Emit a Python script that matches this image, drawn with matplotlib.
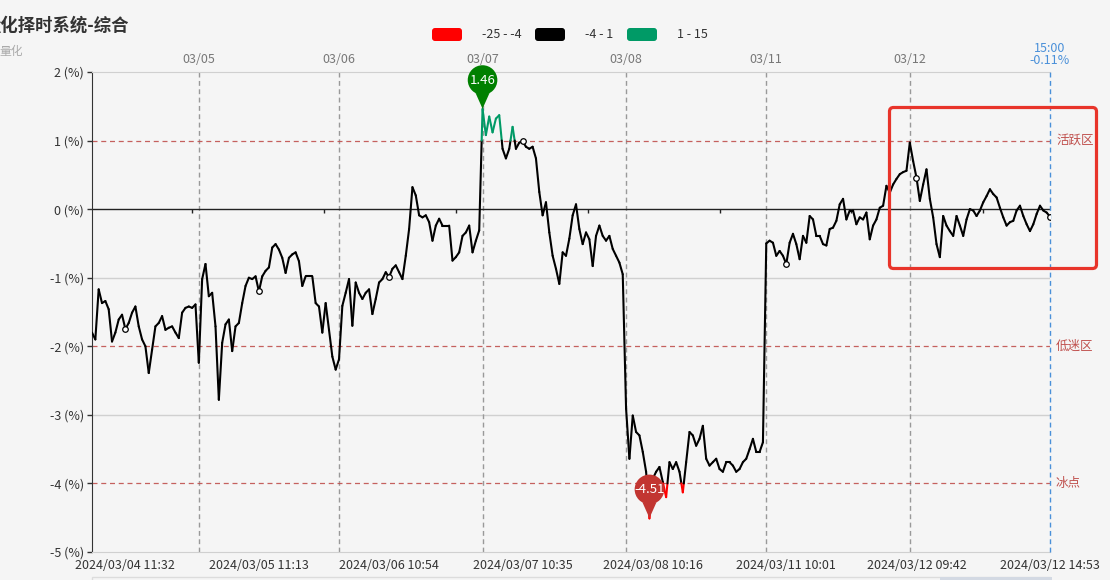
"""
量化择时系统-综合：多日分时指标走势（按区间着色）
"""
import matplotlib
matplotlib.use("Agg")
import matplotlib.pyplot as plt
import matplotlib.transforms as mtransforms
from matplotlib.collections import LineCollection
from matplotlib.patches import Circle, Polygon, FancyBboxPatch, Rectangle
import numpy as np

plt.rcParams["font.family"] = ["Noto Sans CJK SC", "DejaVu Sans"]

W, H = 1110, 580

# ---- 数据（每日分时采样，单位 %）----
d0304 = [-1.80, -1.90, -1.17, -1.37, -1.34, -1.46, -1.93, -1.80, -1.61, -1.54,
         -1.75, -1.66, -1.51, -1.42, -1.71, -1.90, -2.00, -2.39, -2.05, -1.71,
         -1.66, -1.56, -1.76, -1.73, -1.71, -1.80, -1.88, -1.51, -1.44, -1.42,
         -1.44, -1.39]
d0305 = [-2.24, -1.02, -0.80, -1.27, -1.22, -1.71, -2.78, -1.95, -1.68, -1.61,
         -2.07, -1.71, -1.66, -1.37, -1.12, -1.00, -1.02, -0.98, -1.20, -0.98,
         -0.90, -0.85, -0.56, -0.51, -0.59, -0.71, -0.93, -0.71, -0.66, -0.63,
         -0.76, -1.12, -0.98, -0.98, -0.98, -1.37, -1.42, -1.80, -1.37, -1.76,
         -2.15, -2.34]
d0306 = [-2.19, -1.41, -1.22, -1.02, -1.70, -1.07, -1.22, -1.31, -1.22, -1.17,
         -1.53, -1.31, -1.07, -1.02, -0.92, -0.99, -0.87, -0.82, -0.92, -1.02,
         -0.68, -0.29, 0.32, 0.20, -0.09, -0.12, -0.09, -0.19, -0.46, -0.24,
         -0.14, -0.24, -0.24, -0.24, -0.75, -0.70, -0.63, -0.39, -0.34, -0.24,
         -0.63, -0.46, -0.31]
d0307 = [1.46, 1.08, 1.35, 1.12, 1.32, 1.37, 0.88, 0.74, 0.88, 1.20,
         0.88, 0.97, 0.99, 0.91, 0.88, 0.91, 0.74, 0.25, -0.09, 0.10,
         -0.34, -0.68, -0.87, -1.09, -0.63, -0.68, -0.43, -0.09, 0.07, -0.29,
         -0.51, -0.34, -0.44, -0.83, -0.39, -0.24, -0.39, -0.46, -0.39, -0.58,
         -0.68, -0.78, -0.95]
d0308 = [-2.91, -3.64, -3.01, -3.25, -3.30, -3.54, -3.83, -4.51, -3.93, -3.83,
         -3.76, -3.98, -4.20, -3.69, -3.79, -3.69, -3.83, -4.13, -3.69, -3.25,
         -3.30, -3.45, -3.35, -3.16, -3.64, -3.74, -3.69, -3.64, -3.79, -3.83,
         -3.69, -3.69, -3.74, -3.83, -3.79, -3.69, -3.64, -3.50, -3.35, -3.54,
         -3.54, -3.40]
d0311 = [-0.50, -0.46, -0.49, -0.68, -0.61, -0.68, -0.80, -0.49, -0.36, -0.51,
         -0.73, -0.39, -0.49, -0.10, -0.15, -0.39, -0.39, -0.51, -0.53, -0.29,
         -0.27, -0.17, 0.07, 0.15, -0.15, -0.02, -0.02, -0.22, -0.12, -0.15,
         -0.05, -0.44, -0.24, -0.15, 0.02, 0.05, 0.34, 0.24, 0.36, 0.44,
         0.51, 0.54, 0.56]
d0312 = [0.97, 0.70, 0.46, 0.12, 0.36, 0.58, 0.15, -0.12, -0.51, -0.70,
         -0.10, -0.24, -0.32, -0.39, -0.10, -0.24, -0.39, -0.15, 0.00, -0.02,
         -0.10, -0.02, 0.10, 0.19, 0.29, 0.22, 0.17, 0.02, -0.12, -0.24,
         -0.19, -0.17, -0.02, 0.05, -0.10, -0.22, -0.32, -0.22, -0.07, 0.05,
         -0.02, -0.05, -0.11]

day_names  = ["03/04", "03/05", "03/06", "03/07", "03/08", "03/11", "03/12"]
day_values = [d0304, d0305, d0306, d0307, d0308, d0311, d0312]

tick_idx    = [10, 50, 89, 129, 168, 208, 247, 287]
tick_labels = ["2024/03/04 11:32", "2024/03/05 11:13", "2024/03/06 10:54",
               "2024/03/07 10:35", "2024/03/08 10:16", "2024/03/11 10:01",
               "2024/03/12 09:42", "2024/03/12 14:53"]

zone_levels = [1, -2, -4]
zone_names  = ["活跃区", "低迷区", "冰点"]

piece_edges  = [-25, -4, 1, 15]
piece_labels = ["-25 - -4", "-4 - 1", "1 - 15"]

# ---- 样式 ----
BG          = "#f5f5f5"
PIECE_COLS  = ["#ff0000", "#000000", "#009a66"]
ZONE_COL    = "#c0504d"
BLUE        = "#4a90d9"
GRID_COL    = "#d0d0d0"

values    = np.concatenate([np.asarray(d, float) for d in day_values])
xs        = np.arange(len(values))
day_start = np.cumsum([0] + [len(d) for d in day_values[:-1]])
last      = len(values) - 1


def split_at_levels(x, y, levels):
    """在阈值交点处插点，便于按区间分段着色"""
    ox, oy = [x[0]], [y[0]]
    for k in range(1, len(x)):
        x0, y0, x1, y1 = x[k - 1], y[k - 1], x[k], y[k]
        cross = []
        for lv in levels:
            if (y0 - lv) * (y1 - lv) < 0:
                cross.append((lv - y0) / (y1 - y0))
        for t in sorted(cross):
            ox.append(x0 + t * (x1 - x0))
            oy.append(y0 + t * (y1 - y0))
        ox.append(x1)
        oy.append(y1)
    return np.array(ox), np.array(oy)


def pix(x, y_top):
    return x / W, 1 - y_top / H


fig = plt.figure(figsize=(W / 100, H / 100), dpi=100, facecolor=BG)
ax = fig.add_axes([92 / W, 1 - 552 / H, 958 / W, 480 / H], facecolor=BG)
ax.set_xlim(0, last)
ax.set_ylim(-5, 2)

# 网格 / 零轴
yt = list(range(-5, 3))
for v in yt:
    if v not in zone_levels and v not in (0, 2, -5):
        ax.axhline(v, color=GRID_COL, lw=1, zorder=1)
ax.axhline(0, color="#222222", lw=1, zorder=2)
mids = [(a + b) / 2 for a, b in zip(tick_idx[:-1], tick_idx[1:])]
ax.plot(mids, np.zeros(len(mids)), ls="none", marker=3, ms=3,
        mew=1, color="#222222", zorder=2)

# 区间标线
for lv, name in zip(zone_levels, zone_names):
    ax.axhline(lv, color=ZONE_COL, lw=0.9, ls=(0, (4, 3)), alpha=0.9, zorder=2)
    ax.annotate(name, xy=(1, lv), xycoords=("axes fraction", "data"),
                xytext=(6, 0), textcoords="offset pixels",
                va="center", ha="left", fontsize=9, color=ZONE_COL)

# 日分隔线
for d in day_start[1:]:
    ax.axvline(d, color="#999999", lw=1, ls=(0, (3.5, 2.5)), zorder=1)
ax.axvline(last, color=BLUE, lw=1, ls=(0, (3.5, 2.5)), zorder=3, clip_on=False)

# 主线（按区间着色）
dx, dy = split_at_levels(xs, values, piece_edges[1:-1])
pts = np.column_stack([dx, dy])
segs = np.stack([pts[:-1], pts[1:]], axis=1)
mid = (dy[:-1] + dy[1:]) / 2
cols = [PIECE_COLS[min(np.searchsorted(piece_edges, m) - 1, 2)] for m in mid]
ax.add_collection(LineCollection(segs, colors=cols, linewidths=1.5,
                                 capstyle="round", joinstyle="round", zorder=5))

# 空心点
ax.plot(tick_idx, values[tick_idx], ls="none", marker="o", ms=4,
        mfc="white", mec="#000000", mew=0.9, zorder=6)

# 坐标轴
ax.set_yticks(yt, [f"{v} (%)" for v in yt])
ax.tick_params(axis="y", length=3.6, width=1, pad=2, labelsize=9,
               color="#333333", labelcolor="#333333")
ax.set_xticks(tick_idx, tick_labels)
ax.tick_params(axis="x", length=0, pad=5, labelsize=9, labelcolor="#333333")
ax.spines["left"].set_color("#333333")
ax.spines["right"].set_visible(False)
for s in ("top", "bottom"):
    ax.spines[s].set_color(GRID_COL)

top = ax.secondary_xaxis("top")
top.set_ticks(day_start[1:], labels=day_names[1:])
top.tick_params(length=0, pad=4, labelsize=9, labelcolor="#777777")
top.spines["top"].set_visible(False)

# 最新值
ax.text(last, 1.05, "15:00", transform=ax.get_xaxis_transform(),
        ha="center", va="center", fontsize=9, color=BLUE)
ax.text(last, 1.0235, f"{values[-1]:.2f}%", transform=ax.get_xaxis_transform(),
        ha="center", va="center", fontsize=9, color=BLUE)


# 极值标记（pin）
def pin(xi, yv, color, text):
    tr = fig.dpi_scale_trans + mtransforms.ScaledTranslation(xi, yv, ax.transData)
    r, cy = 0.148, 0.29
    ang = np.deg2rad([-118, -62])
    tx, ty = r * np.cos(ang), cy + r * np.sin(ang)
    ax.add_patch(Polygon([(tx[0], ty[0]), (tx[1], ty[1]), (0.012, 0.03), (0, 0),
                          (-0.012, 0.03)], closed=True,
                         fc=color, ec="none", transform=tr, clip_on=False, zorder=10))
    ax.add_patch(Circle((0, cy), r, fc=color, ec="none", transform=tr,
                        clip_on=False, zorder=10))
    ax.text(0, cy, text, transform=tr, ha="center", va="center",
            fontsize=9.5, color="white", zorder=11)


imax, imin = int(np.argmax(values)), int(np.argmin(values))
pin(imax, values[imax], "#008000", f"{values[imax]:.2f}")
pin(imin, values[imin], "#c23531", f"{values[imin]:.2f}")

# 标题（左侧被截断，同原图）
fig.text(*pix(-17, 26), "量化择时系统-综合", fontsize=12.5, fontweight="bold",
         color="#333333", ha="left", va="center")
fig.text(*pix(-1, 51), "量化", fontsize=8.5, color="#aaaaaa", ha="left", va="center")

# 图例
ident = mtransforms.IdentityTransform()
for x0, col, lab in zip([432, 535, 627], PIECE_COLS, piece_labels):
    fig.add_artist(FancyBboxPatch((x0, H - 41), 30, 13,
                                  boxstyle="round,pad=0,rounding_size=3",
                                  fc=col, ec="none", transform=ident))
    fig.text(*pix(x0 + 50, 34.5), lab, fontsize=9, color="#333333",
             ha="left", va="center")

# 标注框
fig.add_artist(FancyBboxPatch((889.5, H - 268.5), 207, 161,
                              boxstyle="round,pad=0,rounding_size=4",
                              fill=False, ec="#e8342a", lw=2.3, transform=ident))

# 底部缩放条
fig.add_artist(Rectangle((92, -5), 958, 8, fill=False, ec="#dcdcdc", lw=1,
                         transform=ident))
fig.add_artist(Rectangle((940, -5), 112, 8.5, fc="#d3d9e3", ec="none",
                         transform=ident))

fig.savefig("out.png", dpi=100, facecolor=BG)
